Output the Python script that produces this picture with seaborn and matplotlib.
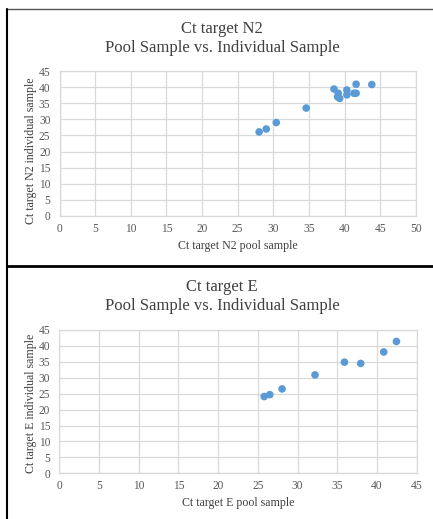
import seaborn as sns
import matplotlib.pyplot as plt
import pandas as pd
from matplotlib.lines import Line2D

sns.set_theme(style="white")
plt.rcParams['font.family'] = ['Liberation Serif', 'DejaVu Serif']

# N2 target: pool vs individual Ct
n2_pool = [28.0, 29.0, 30.4, 34.6, 38.5, 39.1, 39.0, 39.3, 40.3, 40.3, 41.3, 41.6, 41.6, 43.8]
n2_indiv = [26.1, 27.0, 29.0, 33.5, 39.4, 38.1, 37.0, 36.5, 39.1, 37.6, 38.1, 38.1, 40.9, 40.8]

# E target: pool vs individual Ct
e_pool = [25.8, 26.5, 28.05, 32.2, 35.9, 37.95, 40.85, 42.45]
e_indiv = [24.1, 24.7, 26.5, 30.9, 34.9, 34.5, 38.1, 41.4]

W, H = 433, 519
fig = plt.figure(figsize=(W / 100, H / 100), dpi=100)
fig.patch.set_facecolor("white")


def px_axes(x0, x1, y0, y1):
    # pixel box (top-left origin) -> figure fraction
    return fig.add_axes([x0 / W, 1 - y1 / H, (x1 - x0) / W, (y1 - y0) / H])


def style_axes(ax, xmax, ymax):
    ax.set_xlim(0, xmax)
    ax.set_ylim(0, ymax)
    ax.set_xticks(range(0, xmax + 1, 5))
    ax.set_yticks(range(0, ymax + 1, 5))
    ax.grid(True, color="#d9d9d9", linewidth=0.9)
    ax.set_axisbelow(True)
    for s in ax.spines.values():
        s.set_color("#d9d9d9")
        s.set_linewidth(0.9)
    ax.tick_params(axis="both", length=0, labelsize=8.3, colors="#595959")
    ax.tick_params(axis="x", pad=5)
    ax.tick_params(axis="y", pad=6.5)
    ax.set_xlabel("")
    ax.set_ylabel("")


# top chart
ax1 = px_axes(59.5, 416, 71, 216)
df1 = pd.DataFrame({"pool": n2_pool, "indiv": n2_indiv})
sns.scatterplot(data=df1, x="pool", y="indiv", ax=ax1, color="#5b9bd5", s=30, edgecolor="none")
style_axes(ax1, 50, 45)
fig.text(222 / W, 1 - 29 / H, "Ct target N2", ha="center", va="center", fontsize=12, color="#404040")
fig.text(222 / W, 1 - 48 / H, "Pool Sample vs. Individual Sample", ha="center", va="center", fontsize=12, color="#404040")
fig.text(238 / W, 1 - 246 / H, "Ct target N2 pool sample", ha="center", va="center", fontsize=8.6, color="#404040")
fig.text(31 / W, 1 - 151 / H, "Ct target N2 individual sample", ha="center", va="center", rotation=90, fontsize=8.6, color="#404040")

# bottom chart
ax2 = px_axes(59.3, 416.7, 330, 473.3)
df2 = pd.DataFrame({"pool": e_pool, "indiv": e_indiv})
sns.scatterplot(data=df2, x="pool", y="indiv", ax=ax2, color="#5b9bd5", s=30, edgecolor="none")
style_axes(ax2, 45, 45)
fig.text(222 / W, 1 - 287 / H, "Ct target E", ha="center", va="center", fontsize=12, color="#404040")
fig.text(222 / W, 1 - 306 / H, "Pool Sample vs. Individual Sample", ha="center", va="center", fontsize=12, color="#404040")
fig.text(238 / W, 1 - 503 / H, "Ct target E pool sample", ha="center", va="center", fontsize=8.6, color="#404040")
fig.text(31 / W, 1 - 403 / H, "Ct target E individual sample", ha="center", va="center", rotation=90, fontsize=8.6, color="#404040")

# outer frame lines
fig.add_artist(Line2D([7 / W, 1], [1 - 9 / H, 1 - 9 / H], color="#555555", linewidth=1.0))
fig.add_artist(Line2D([7 / W, 7 / W], [1 - 9 / H, 0], color="black", linewidth=1.5))
fig.add_artist(Line2D([7 / W, 1], [1 - 266 / H, 1 - 266 / H], color="black", linewidth=2.0))

fig.savefig("out.png", dpi=100)
